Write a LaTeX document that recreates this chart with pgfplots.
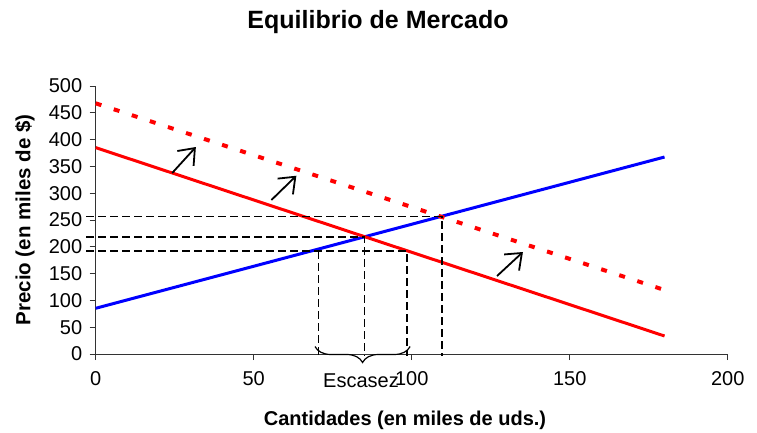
\documentclass[border=0pt]{standalone}
\usepackage{pgfplots}
\pgfplotsset{compat=1.18}
\usepackage{fontspec}
\setmainfont{Liberation Sans}
\usetikzlibrary{arrows.meta,decorations.pathreplacing}
\begin{document}
\begin{tikzpicture}
\useasboundingbox (-95.7pt,-78pt) rectangle (661.3pt,354pt);
\begin{axis}[
    scale only axis,
    width=632pt, height=268pt,
    at={(0,0)}, anchor=south west,
    xmin=0, xmax=200, ymin=0, ymax=500,
    axis x line=bottom, axis y line=left,
    axis line style={-, line width=1pt, black!80},
    xtick={0,50,...,200}, ytick={0,50,...,500},
    tick align=outside, major tick length=6pt,
    tick style={line width=1pt, black!80},
    tick label style={font=\fontsize{20}{24}\selectfont},
    /pgf/number format/assume math mode=true,
    xticklabel style={yshift=-8pt},
    yticklabel style={xshift=-4pt},
    clip=false,
    dashguide/.style={black, line width=1.6pt, dash pattern=on 8pt off 4pt},
    arr/.style={black, line width=1.8pt, -{Straight Barb[length=14pt,width=22pt]}},
]
% oferta
\addplot[blue, line width=3pt] coordinates {(0,85.3) (180,367.5)};
% demanda inicial
\addplot[red, line width=3pt] coordinates {(0,385) (180,33.6)};
% demanda desplazada
\addplot[red, line width=4pt, dash pattern=on 6pt off 13pt] coordinates {(0,467.7) (180,119.4)};
% lineas guia
\addplot[dashguide] coordinates {(-3,256.3) (109.5,256.3) (109.5,-4)};
\addplot[dashguide] coordinates {(-3,218) (85,218) (85,-4)};
\addplot[dashguide] coordinates {(-3,192) (98.5,192) (98.5,-4)};
\addplot[dashguide] coordinates {(70.5,192) (70.5,-4)};
% flechas de desplazamiento
\addplot[arr] coordinates {(24.2,337.7) (31.7,386.2)};
\addplot[arr] coordinates {(55.6,287.3) (63.5,332.6)};
\addplot[arr] coordinates {(127,145.5) (135.2,190.3)};
% escasez
\draw[decorate, decoration={brace, amplitude=16pt}, line width=1.2pt]
    (axis cs:99.5,14) -- (axis cs:69.4,14);
\end{axis}
\node[font=\fontsize{20}{24}\selectfont] at (265.3pt,-27pt) {Escasez};
\node[font=\bfseries\fontsize{25}{30}\selectfont] at (282.3pt,332pt) {Equilibrio de Mercado};
\node[font=\bfseries\fontsize{20.5}{24}\selectfont, rotate=90] at (-70.7pt,134pt) {Precio (en miles de \$)};
\node[font=\bfseries\fontsize{20}{24}\selectfont] at (309.3pt,-66pt) {Cantidades (en miles de uds.)};
\end{tikzpicture}
\end{document}
